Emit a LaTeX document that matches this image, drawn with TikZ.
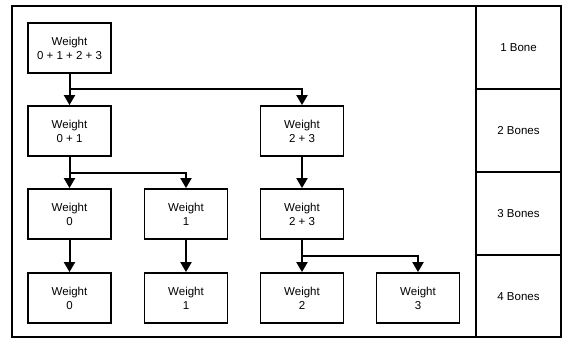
\documentclass[tikz,border=0pt]{standalone}
\usepackage{fontspec}
\setmainfont{Liberation Sans}
\usetikzlibrary{arrows.meta}
\begin{document}
\begin{tikzpicture}[x=1pt,y=-1pt,
  box/.style={draw, line width=1.8pt, minimum width=83pt, minimum height=50pt, align=center, inner sep=0pt, font=\fontsize{11.5}{14}\selectfont},
  lbl/.style={align=center, inner sep=0pt, font=\fontsize{11.5}{14}\selectfont},
  conn/.style={line width=2pt, -{Triangle[length=10pt,width=11pt]}},
  frame/.style={line width=1.8pt}]
\useasboundingbox (0,0) rectangle (564,340);
\draw[frame] (12,6) rectangle (561,337);
\draw[frame] (476,6) -- (476,337);
\draw[frame] (476,89) -- (561,89);
\draw[frame] (476,172) -- (561,172);
\draw[frame] (476,255) -- (561,255);
\node[lbl] (r1) at (518.5,47.5) {1 Bone};
\node[lbl] (r2) at (518.5,130.5) {2 Bones};
\node[lbl] (r3) at (518.5,213.5) {3 Bones};
\node[lbl] (r4) at (518.5,296.5) {4 Bones};
\node[box] (a) at (69.5,48) {Weight\\0 + 1 + 2 + 3};
\node[box] (b) at (69.5,131) {Weight\\0 + 1};
\node[box] (c) at (302,131) {Weight\\2 + 3};
\node[box] (d) at (69.5,214) {Weight\\0};
\node[box] (e) at (186,214) {Weight\\1};
\node[box] (f) at (302,214) {Weight\\2 + 3};
\node[box] (g) at (69.5,298) {Weight\\0};
\node[box] (h) at (186,298) {Weight\\1};
\node[box] (i) at (302,298) {Weight\\2};
\node[box] (j) at (418,298) {Weight\\3};
\draw[conn] (a) -- (b);
\draw[conn] (a.south) -- ++(0,15) -| (c.north);
\draw[conn] (b) -- (d);
\draw[conn] (b.south) -- ++(0,16) -| (e.north);
\draw[conn] (c) -- (f);
\draw[conn] (d) -- (g);
\draw[conn] (e) -- (h);
\draw[conn] (f) -- (i);
\draw[conn] (f.south) -- ++(0,16) -| (j.north);
\end{tikzpicture}
\end{document}
